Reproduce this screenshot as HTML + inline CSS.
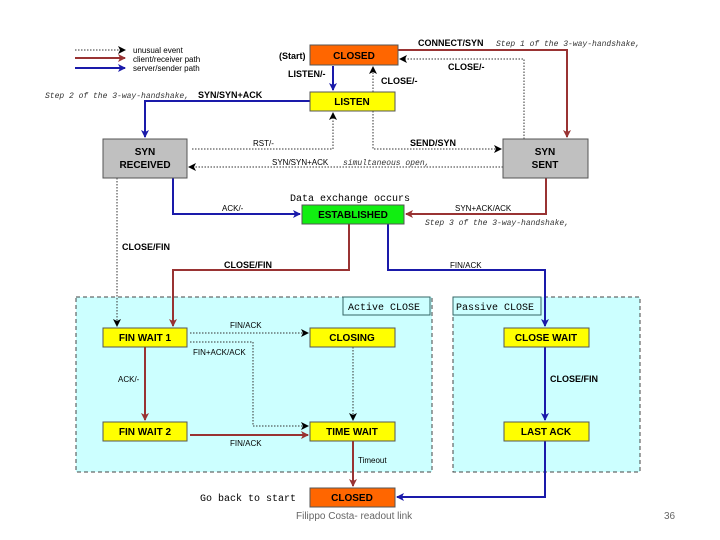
<!DOCTYPE html>
<html><head><meta charset="utf-8"><style>
html,body{margin:0;padding:0;background:#fff;}
svg{display:block;}
.b{font-family:"Liberation Sans",sans-serif;font-weight:bold;font-size:10px;fill:#000;}
.n{font-family:"Liberation Sans",sans-serif;font-size:8px;fill:#000;}
.lb{font-family:"Liberation Sans",sans-serif;font-weight:bold;font-size:9px;fill:#000;}
.m{font-family:"Liberation Mono",monospace;font-size:10px;fill:#000;}
.mi{font-family:"Liberation Mono",monospace;font-style:italic;font-size:8px;fill:#333;}
.r{stroke:#993333;stroke-width:2;fill:none;}
.u{stroke:#1a1aaa;stroke-width:2;fill:none;}
.d{stroke:#333;stroke-width:1;stroke-dasharray:1.5,1.5;fill:none;}
</style></head><body>
<svg width="720" height="540" viewBox="0 0 720 540" xmlns="http://www.w3.org/2000/svg">
<defs>
<marker id="ar" markerWidth="8" markerHeight="8" refX="7" refY="4" orient="auto" markerUnits="userSpaceOnUse"><path d="M0,0 L8,4 L0,8 L2,4z" fill="#993333"/></marker>
<marker id="au" markerWidth="8" markerHeight="8" refX="7" refY="4" orient="auto" markerUnits="userSpaceOnUse"><path d="M0,0 L8,4 L0,8 L2,4z" fill="#1a1aaa"/></marker>
<marker id="ad" markerWidth="8" markerHeight="8" refX="7" refY="4" orient="auto" markerUnits="userSpaceOnUse"><path d="M0,0 L8,4 L0,8 L2,4z" fill="#000"/></marker>
</defs>
<rect x="76" y="297" width="356" height="175" fill="#ccffff" stroke="#444" stroke-dasharray="4,3"/>
<rect x="343" y="297" width="87" height="18" fill="#ccffff" stroke="#336666"/>
<text x="348" y="310" class="m" fill="#555">Active CLOSE</text>
<rect x="453" y="297" width="187" height="175" fill="#ccffff" stroke="#444" stroke-dasharray="4,3"/>
<rect x="453" y="297" width="88" height="18" fill="#ccffff" stroke="#336666"/>
<text x="456" y="310" class="m" fill="#555">Passive CLOSE</text>
<line x1="75" y1="50" x2="125" y2="50" class="d" marker-end="url(#ad)"/>
<line x1="75" y1="58" x2="125" y2="58" class="r" marker-end="url(#ar)"/>
<line x1="75" y1="68" x2="125" y2="68" class="u" marker-end="url(#au)"/>
<text x="133" y="53" class="n">unusual event</text>
<text x="133" y="62" class="n">client/receiver path</text>
<text x="133" y="71" class="n">server/sender path</text>
<polyline points="398,50 567,50 567,137" class="r" marker-end="url(#ar)"/>
<text x="418" y="46" class="lb">CONNECT/SYN</text>
<text x="496" y="46" class="mi">Step 1 of the 3-way-handshake,</text>
<polyline points="524,139 524,59 400,59" class="d" marker-end="url(#ad)"/>
<text x="448" y="70" class="lb">CLOSE/-</text>
<line x1="333" y1="66" x2="333" y2="90" class="u" marker-end="url(#au)"/>
<text x="288" y="77" class="lb">LISTEN/-</text>
<line x1="373" y1="92" x2="373" y2="67" class="d" marker-end="url(#ad)"/>
<text x="381" y="84" class="lb">CLOSE/-</text>
<polyline points="310,101 145,101 145,137" class="u" marker-end="url(#au)"/>
<text x="198" y="98" class="lb">SYN/SYN+ACK</text>
<text x="45" y="98" class="mi">Step 2 of the 3-way-handshake,</text>
<polyline points="192,149 333,149 333,113" class="d" marker-end="url(#ad)"/>
<text x="253" y="146" class="n">RST/-</text>
<polyline points="373,111 373,149 501,149" class="d" marker-end="url(#ad)"/>
<text x="410" y="146" class="lb">SEND/SYN</text>
<line x1="503" y1="167" x2="189" y2="167" class="d" marker-end="url(#ad)"/>
<text x="272" y="165" class="n">SYN/SYN+ACK</text>
<text x="343" y="165" class="mi">simultaneous open,</text>
<polyline points="173,178 173,214 300,214" class="u" marker-end="url(#au)"/>
<text x="222" y="211" class="n">ACK/-</text>
<text x="290" y="201" class="m">Data exchange occurs</text>
<polyline points="546,178 546,214 406,214" class="r" marker-end="url(#ar)"/>
<text x="455" y="211" class="n">SYN+ACK/ACK</text>
<text x="425" y="225" class="mi">Step 3 of the 3-way-handshake,</text>
<line x1="117" y1="178" x2="117" y2="326" class="d" marker-end="url(#ad)"/>
<text x="122" y="250" class="lb">CLOSE/FIN</text>
<polyline points="349,224 349,270 173,270 173,326" class="r" marker-end="url(#ar)"/>
<text x="224" y="268" class="lb">CLOSE/FIN</text>
<polyline points="388,224 388,270 545,270 545,326" class="u" marker-end="url(#au)"/>
<text x="450" y="268" class="n">FIN/ACK</text>
<line x1="190" y1="333" x2="308" y2="333" class="d" marker-end="url(#ad)"/>
<text x="230" y="328" class="n">FIN/ACK</text>
<polyline points="190,342 253,342 253,426 308,426" class="d" marker-end="url(#ad)"/>
<text x="193" y="355" class="n">FIN+ACK/ACK</text>
<line x1="353" y1="347" x2="353" y2="420" class="d" marker-end="url(#ad)"/>
<line x1="145" y1="347" x2="145" y2="420" class="r" marker-end="url(#ar)"/>
<text x="118" y="382" class="n">ACK/-</text>
<line x1="190" y1="435" x2="308" y2="435" class="r" marker-end="url(#ar)"/>
<text x="230" y="446" class="n">FIN/ACK</text>
<line x1="545" y1="347" x2="545" y2="420" class="u" marker-end="url(#au)"/>
<text x="550" y="382" class="lb">CLOSE/FIN</text>
<line x1="353" y1="441" x2="353" y2="486" class="r" marker-end="url(#ar)"/>
<text x="358" y="463" class="n">Timeout</text>
<polyline points="545,441 545,497 397,497" class="u" marker-end="url(#au)"/>
<text x="200" y="501" class="m">Go back to start</text>
<text x="279" y="59" class="lb">(Start)</text>
<rect x="310" y="45" width="88" height="20" fill="#ff6600" stroke="#555"/>
<text x="354" y="59" class="b" text-anchor="middle">CLOSED</text>
<rect x="310" y="92" width="85" height="19" fill="#ffff00" stroke="#555"/>
<text x="352" y="105" class="b" text-anchor="middle">LISTEN</text>
<rect x="103" y="139" width="84" height="39" fill="#c0c0c0" stroke="#555"/>
<text x="145" y="155" class="b" text-anchor="middle">SYN</text>
<text x="145" y="168" class="b" text-anchor="middle">RECEIVED</text>
<rect x="503" y="139" width="85" height="39" fill="#c0c0c0" stroke="#555"/>
<text x="545" y="155" class="b" text-anchor="middle">SYN</text>
<text x="545" y="168" class="b" text-anchor="middle">SENT</text>
<rect x="302" y="205" width="102" height="19" fill="#11ee11" stroke="#555"/>
<text x="353" y="218" class="b" text-anchor="middle">ESTABLISHED</text>
<rect x="103" y="328" width="84" height="19" fill="#ffff00" stroke="#555"/>
<text x="145" y="341" class="b" text-anchor="middle">FIN WAIT 1</text>
<rect x="310" y="328" width="85" height="19" fill="#ffff00" stroke="#555"/>
<text x="352" y="341" class="b" text-anchor="middle">CLOSING</text>
<rect x="103" y="422" width="84" height="19" fill="#ffff00" stroke="#555"/>
<text x="145" y="435" class="b" text-anchor="middle">FIN WAIT 2</text>
<rect x="310" y="422" width="85" height="19" fill="#ffff00" stroke="#555"/>
<text x="352" y="435" class="b" text-anchor="middle">TIME WAIT</text>
<rect x="504" y="328" width="85" height="19" fill="#ffff00" stroke="#555"/>
<text x="546" y="341" class="b" text-anchor="middle">CLOSE WAIT</text>
<rect x="504" y="422" width="85" height="19" fill="#ffff00" stroke="#555"/>
<text x="546" y="435" class="b" text-anchor="middle">LAST ACK</text>
<rect x="310" y="488" width="85" height="19" fill="#ff6600" stroke="#555"/>
<text x="352" y="501" class="b" text-anchor="middle">CLOSED</text>
<text x="296" y="519" font-family="Liberation Sans,sans-serif" font-size="10" fill="#666">Filippo Costa- readout link</text>
<text x="664" y="519" font-family="Liberation Sans,sans-serif" font-size="10" fill="#666">36</text>
</svg>
</body></html>
